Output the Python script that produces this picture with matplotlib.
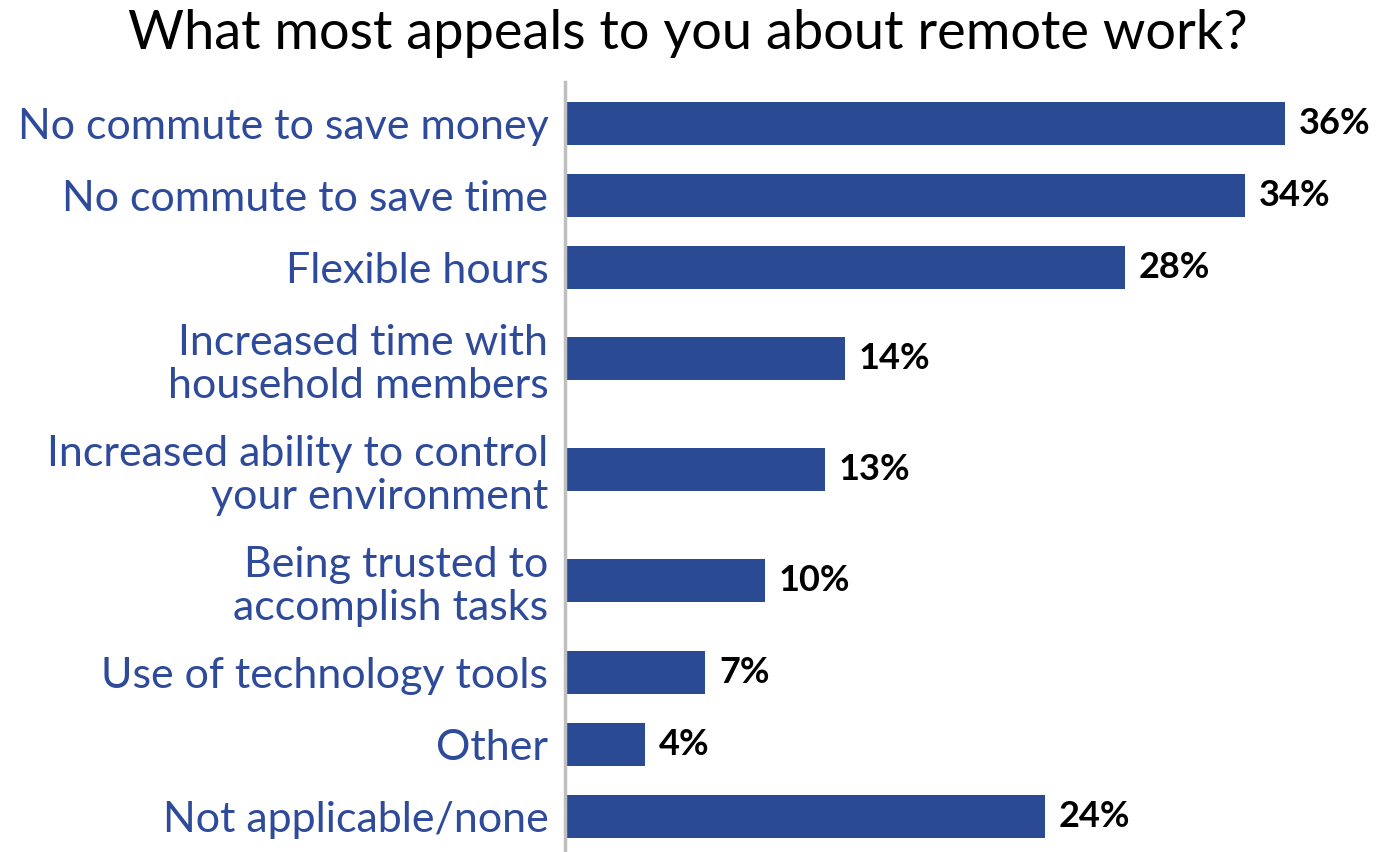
import matplotlib
matplotlib.use("Agg")
import matplotlib.pyplot as plt

categories = [
    "No commute to save money",
    "No commute to save time",
    "Flexible hours",
    "Increased time with\nhousehold members",
    "Increased ability to control\nyour environment",
    "Being trusted to\naccomplish tasks",
    "Use of technology tools",
    "Other",
    "Not applicable/none",
]
values = [36, 34, 28, 14, 13, 10, 7, 4, 24]
value_labels = ["36%", "34%", "28%", "14%", "13%", "10%", "7%", "4%", "24%"]
title = "What most appeals to you about remote work?"

BAR_COLOR = "#2B4A94"
LABEL_COLOR = "#2E4A9A"
FONT = ["Lato", "DejaVu Sans"]

W, H, DPI = 1376, 852, 100
fig = plt.figure(figsize=(W / DPI, H / DPI), dpi=DPI)

left_px, top_px = 565, 82
ax = fig.add_axes([left_px / W, 0, (W - left_px) / W, (H - top_px) / H])

# Row heights grow with the number of text lines in the category label
single_row, double_row = 72, 111
centers = []
y = 87
for cat in categories:
    h = double_row if "\n" in cat else single_row
    centers.append(y + h / 2)
    y += h

ax.barh(centers, values, height=43, color=BAR_COLOR, left=0)
ax.set_ylim(H, top_px)
ax.set_xlim(0, (W - left_px) / 20)

for c, v, lab in zip(centers, values, value_labels):
    ax.text(v + 0.7, c, lab, va="center", ha="left", fontsize=26,
            fontweight="bold", color="black", family=FONT)

ax.set_yticks(centers)
ax.set_yticklabels(categories, fontsize=31, color=LABEL_COLOR, family=FONT,
                   linespacing=1.15)
ax.tick_params(axis="y", length=0, pad=12)
ax.set_xticks([])
for s in ["top", "right", "bottom"]:
    ax.spines[s].set_visible(False)
ax.spines["left"].set_color("#BFBFBF")
ax.spines["left"].set_linewidth(2.5)

fig.text(0.5, 1 - 34 / H, title, ha="center", va="center", fontsize=39,
         color="black", family=FONT)

fig.savefig("out.png", dpi=DPI)
